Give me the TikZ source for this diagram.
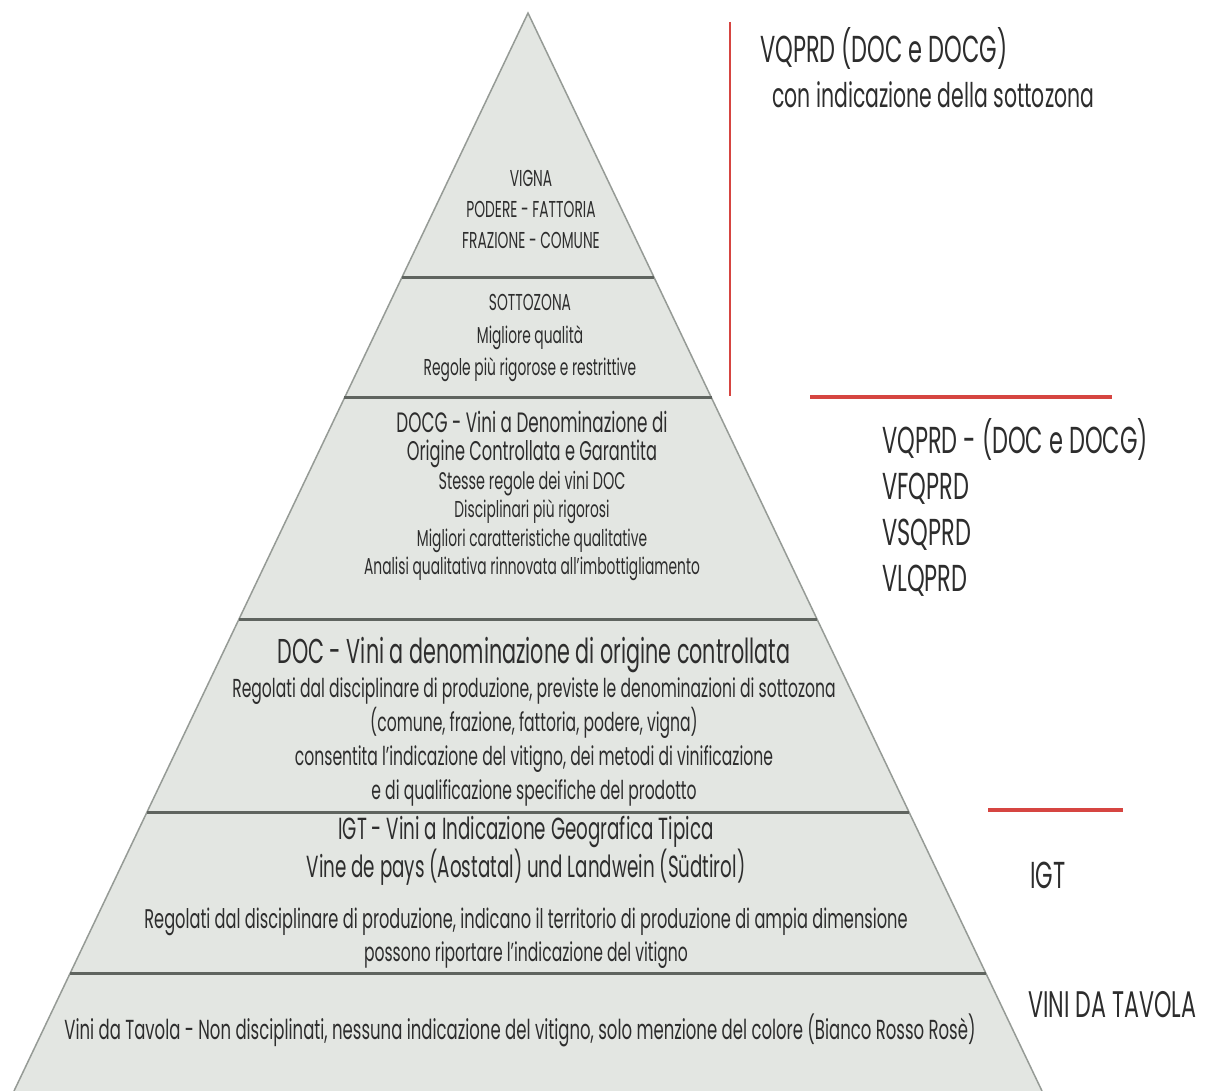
\documentclass[tikz,border=0pt]{standalone}
\usepackage{fontspec}
\setmainfont[FakeStretch=0.6]{Poppins}
\usetikzlibrary{calc}
\definecolor{pyrfill}{RGB}{227,230,226}
\definecolor{pyredge}{RGB}{150,155,150}
\definecolor{pyrsep}{RGB}{95,100,95}
\definecolor{redline}{RGB}{214,69,65}
\definecolor{txt}{RGB}{45,45,45}
\newcommand{\setfs}[2]{\fontsize{#1}{#2}\selectfont}

\begin{document}
\begin{tikzpicture}[x=1pt,y=-1pt,
	every node/.style={align=center,inner sep=0pt,text=txt},
	sepline/.style={draw=pyrsep,line width=3pt},
	redmark/.style={draw=redline,line width=4pt},
	sidelabel/.style={anchor=west,font=\setfs{37.5}{46.3}}]
	\useasboundingbox (0,0) rectangle (1206,1091);
	% pyramid
	\coordinate (apex) at (528,13);
	\coordinate (bl) at (14,1091);
	\coordinate (br) at (1042,1091);
	\fill[pyrfill] (apex) -- (bl) -- (br) -- cycle;
	\draw[pyredge,line width=1.5pt] (bl) -- (apex) -- (br);
	\foreach \y in {278,398,620,812,973}{
		\pgfmathsetmacro\t{(\y-13)/1078}
		\draw[sepline] ($(apex)!\t!(bl)$) -- ($(apex)!\t!(br)$);
	}
	% levels
	\node (vigna) at (531,209) [font=\setfs{23}{31}] {VIGNA\\PODERE - FATTORIA\\FRAZIONE - COMUNE};
	\node (sottozona) at (530,338) [font=\setfs{23}{32.5}] {SOTTOZONA\\Migliore qualità\\Regole più rigorose e restrittive};
	\node (docg) at (532,496) [font=\setfs{23}{28.4}] {{\setfs{28}{28.4}DOCG - Vini a Denominazione di}\\
		{\setfs{27}{28.4}Origine Controllata e Garantita}\\
		{\setfs{24}{28.4}Stesse regole dei vini DOC}\\
		Disciplinari più rigorosi\\
		Migliori caratteristiche qualitative\\
		Analisi qualitativa rinnovata all’imbottigliamento};
	\node (doc) at (534,722) [font=\setfs{26}{34}] {{\setfs{34.5}{34}DOC - Vini a denominazione di origine controllata}\\
		Regolati dal disciplinare di produzione, previste le denominazioni di sottozona\\
		(comune, frazione, fattoria, podere, vigna)\\
		consentita l’indicazione del vitigno, dei metodi di vinificazione\\
		e di qualificazione specifiche del prodotto};
	\node (igt) at (526,892) [font=\setfs{27}{33}] {{\setfs{30.5}{33}IGT - Vini a Indicazione Geografica Tipica}\\
		{\setfs{30.5}{33}Vine de pays (Aostatal) und Landwein (Südtirol)}\\[18pt]
		Regolati dal disciplinare di produzione, indicano il territorio di produzione di ampia dimensione\\
		{\setfs{26}{33}possono riportare l’indicazione del vitigno}};
	\node (tavola) at (520,1030) [font=\setfs{27.5}{30}] {Vini da Tavola - Non disciplinati, nessuna indicazione del vitigno, solo menzione del colore (Bianco Rosso Rosè)};
	% side marks
	\draw[redmark,line width=2.5pt] (730,22) -- (730,396);
	\draw[redmark] (810,397) -- (1112,397);
	\draw[redmark] (988,810) -- (1123,810);
	\node (vqprd) at (760,48) [sidelabel] {VQPRD (DOC e DOCG)};
	\node (vqprdsub) at (772,95) [sidelabel,font=\setfs{34}{40}] {con indicazione della sottozona};
	\node (vqprdlist) at (882,507.5) [sidelabel,align=left] {VQPRD - (DOC e DOCG)\\VFQPRD\\VSQPRD\\VLQPRD};
	\node (igtlab) at (1030,875) [sidelabel] {IGT};
	\node (tavolalab) at (1028,1005) [sidelabel,font=\setfs{37}{40}] {VINI DA TAVOLA};
\end{tikzpicture}
\end{document}
